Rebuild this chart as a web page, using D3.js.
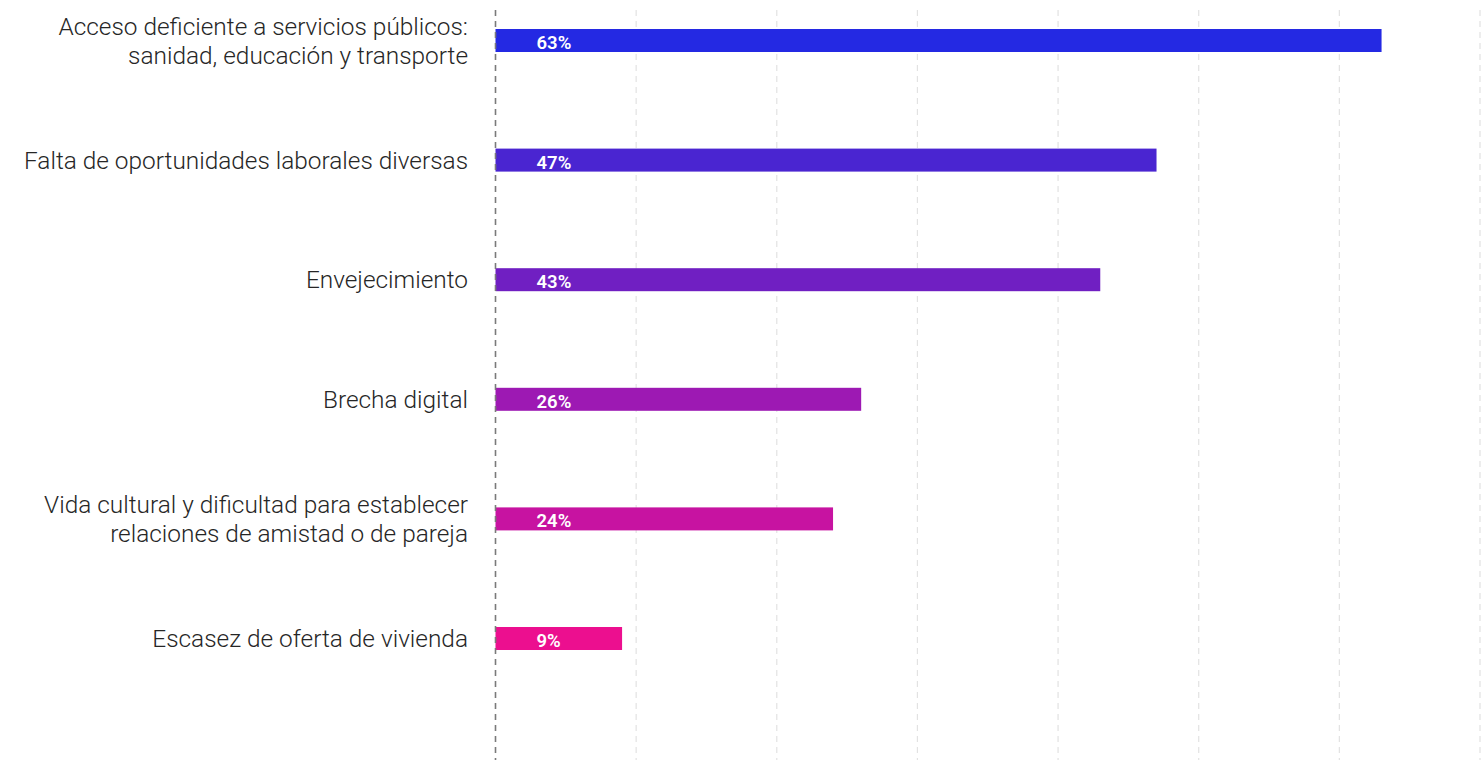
<!DOCTYPE html>
<html>
<head>
<meta charset="utf-8">
<script src="https://cdn.jsdelivr.net/npm/d3@7"></script>
<style>
  html, body { margin: 0; padding: 0; background: #fff; }
  svg { display: block; }
</style>
</head>
<body>
<svg id="chart" width="1481" height="760"></svg>
<script>
const categories = [
  ["Acceso deficiente a servicios públicos:", "sanidad, educación y transporte"],
  ["Falta de oportunidades laborales diversas"],
  ["Envejecimiento"],
  ["Brecha digital"],
  ["Vida cultural y dificultad para establecer", "relaciones de amistad o de pareja"],
  ["Escasez de oferta de vivienda"]
];
const values = [63, 47, 43, 26, 24, 9];
const valueLabels = ["63%", "47%", "43%", "26%", "24%", "9%"];
const gridTicks = [10, 20, 30, 40, 50, 60, 70];
const colors = ["#2429e3", "#4a25d1", "#701fc2", "#9d19b3", "#c713a1", "#ec0f8f"];

const W = 1481, H = 760;
const svg = d3.select("#chart");
const keys = categories.map((c, i) => i);

const x = d3.scaleLinear().domain([0, 70]).range([495.5, 1480]);
const y = d3.scalePoint().domain(keys).range([40.5, 638.5]);
const barH = 23;

// gridlines
svg.append("g").selectAll("line").data(gridTicks).join("line")
  .attr("x1", d => x(d)).attr("x2", d => x(d))
  .attr("y1", 10).attr("y2", H)
  .attr("stroke", "#e2e2e2").attr("stroke-width", 1.2)
  .attr("stroke-dasharray", "6,5");

// bars
svg.append("g").selectAll("rect").data(values).join("rect")
  .attr("x", x(0))
  .attr("y", (d, i) => y(i) - barH / 2)
  .attr("width", d => x(d) - x(0))
  .attr("height", barH)
  .attr("fill", (d, i) => colors[i]);

// axis line (dashed)
svg.append("line")
  .attr("x1", x(0)).attr("x2", x(0))
  .attr("y1", 10).attr("y2", H)
  .attr("stroke", "#7a7a7a").attr("stroke-width", 1.6)
  .attr("stroke-dasharray", "6,5");

// value labels
svg.append("g").selectAll("text").data(valueLabels).join("text")
  .attr("x", x(0) + 41)
  .attr("y", (d, i) => y(i) + 8.5)
  .attr("fill", "#fff")
  .attr("font-family", "Roboto, sans-serif")
  .attr("font-weight", 600)
  .attr("font-size", 18.5)
  .text(d => d);

// category labels
const lineH = 29;
const cl = svg.append("g").selectAll("text").data(categories).join("text")
  .attr("text-anchor", "end")
  .attr("font-family", "Roboto, sans-serif")
  .attr("font-weight", 300)
  .attr("font-size", 24.4)
  .attr("fill", "#262626");
cl.each(function(lines, i) {
  const t = d3.select(this);
  const n = lines.length;
  lines.forEach((ln, j) => {
    t.append("tspan")
      .attr("x", 468)
      .attr("y", y(i) + (j - (n - 1) / 2) * lineH + 8.5)
      .text(ln);
  });
});
</script>
</body>
</html>
